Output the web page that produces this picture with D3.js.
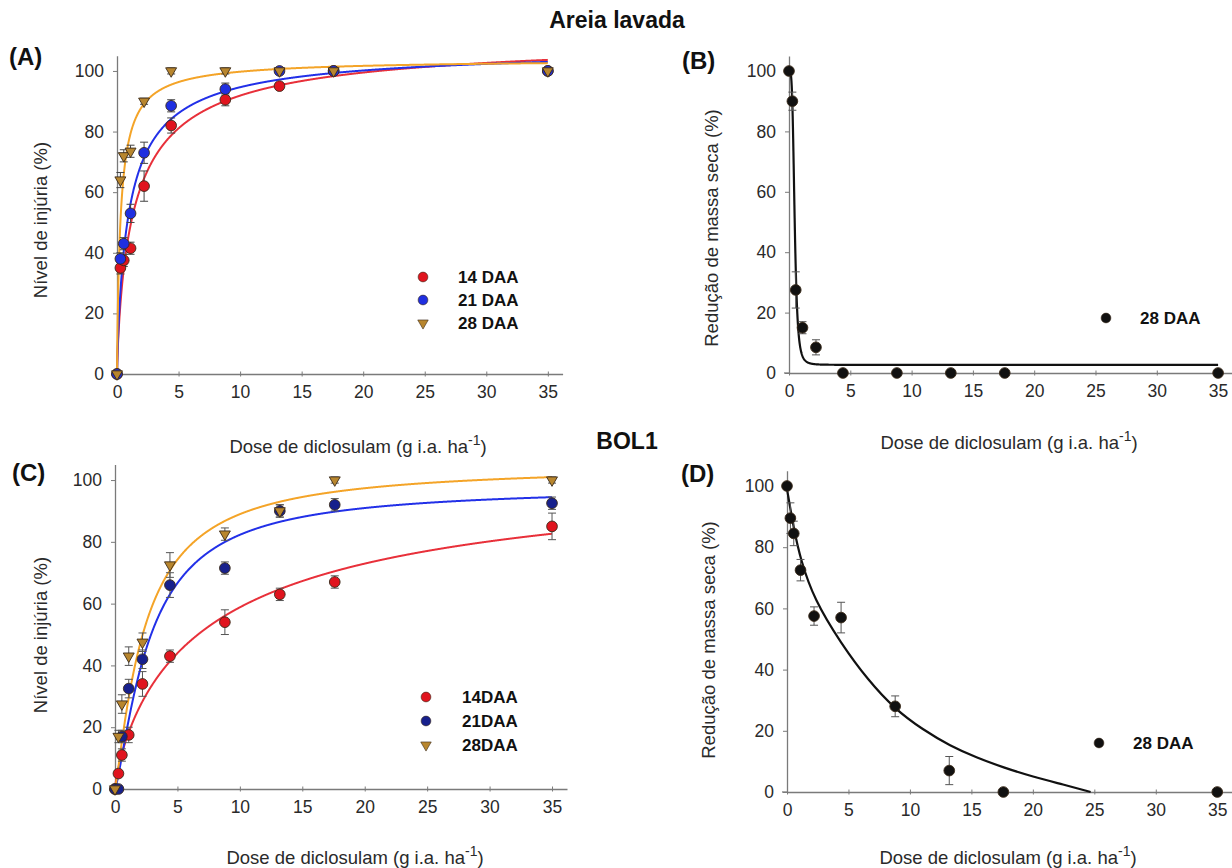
<!DOCTYPE html>
<html><head><meta charset="utf-8">
<script src="https://cdn.jsdelivr.net/npm/d3@7"></script>
<style>
html,body{margin:0;padding:0;background:#fff;}
svg text{font-family:"Liberation Sans",Arial,sans-serif;}
</style></head>
<body>
<svg id="chart" width="1232" height="868"></svg>
<script>
// ---------------- DATA ----------------
const doses = [0, 0.275, 0.55, 1.1, 2.2, 4.4, 8.8, 13.2, 17.6, 35];
const xTicks = [0, 5, 10, 15, 20, 25, 30, 35];
const yTicks = [0, 20, 40, 60, 80, 100];

// Panel A – Areia lavada, injury (%)
const injA14 = [0, 35, 37.5, 41.5, 62, 82, 90.5, 95, 100, 100];
const errA14 = [0, 2, 2, 2, 5, 2.5, 2, 1, 1, 1];
const injA21 = [0, 38, 43, 53, 73, 88.5, 94, 100, 100, 100];
const errA21 = [0, 2, 2, 3, 3.5, 2, 2, 1, 1, 1];
const injA28 = [0, 64, 72, 73.5, 90, 100, 100, 100, 100, 100];
const errA28 = [0, 2.5, 2, 2, 1, 1, 1, 1, 1, 0];
// log-logistic fit parameters [a, b, c] : y = a / (1 + (b/x)^c)
const fitA14 = [112, 1.5, 0.8];
const fitA21 = [108, 1.0, 0.85];
const fitA28 = [104, 0.3, 0.9];

// Panel B – Areia lavada, dry mass reduction (%)
const massB = [100, 90, 27.5, 15, 8.5, 0, 0, 0, 0, 0];
const errB = [0, 3, 6, 2, 2.5, 0, 0, 0, 0, 0];
// fit parameters [d, c, e, b] : y = c + (d-c)/(1+(x/e)^b)
const fitB = [100, 2.7, 0.46, 4];

// Panel C – BOL1, injury (%)
const injC14 = [0, 5, 11, 17.5, 34, 43, 54, 63, 67, 85];
const errC14 = [0, 1, 2, 2.5, 4, 2, 4, 2, 2, 4.3];
const injC21 = [0, 0, 17, 32.5, 42, 66, 71.5, 90, 92, 92.5];
const errC21 = [0, 1, 2, 3, 3, 4, 2, 2, 2, 2];
const injC28 = [0, 17, 27.5, 43, 47.5, 72.5, 82.5, 90, 100, 100];
const errC28 = [0, 2, 3, 3, 3, 4, 2, 2, 1, 1];
const fitC14 = [108, 8, 0.8];
const fitC21 = [98, 2.8, 1.3];
const fitC28 = [105, 2.4, 1.2];

// Panel D – BOL1, dry mass reduction (%)
const massD = [100, 89.5, 84.5, 72.5, 57.5, 57, 28, 7, 0, 0];
const errD = [0, 5, 4, 3.5, 3, 5, 3.4, 4.6, 0, 0];
// fitted curve [dose, value]
const curveDx = [0, 0.55, 1.1, 2.2, 4.4, 6.6, 8.8, 11, 13.3, 15.4, 17.6, 20, 22.5, 24.7];
const curveDy = [99, 86, 76, 63, 48.5, 36.5, 27, 20.5, 15, 11.3, 8, 5, 2.4, 0];

const legendA = ["14 DAA", "21 DAA", "28 DAA"];
const legendC = ["14DAA", "21DAA", "28DAA"];
const legendBD = ["28 DAA"];

// ---------------- DRAW ----------------
const svg = d3.select("#chart");
const AX = "#7a7a7a";
const TICKFS = "17.5px", LABFS = "18.5px";

function makePanel(cfg) {
  const x = d3.scaleLinear().domain([0, 36.2]).range([cfg.x0, cfg.x1]);
  const y = d3.scaleLinear().domain([0, 105]).range([cfg.y0, cfg.y1]);
  const g = svg.append("g");
  const xa = g.append("g").attr("transform", `translate(0,${cfg.y0})`)
    .call(d3.axisBottom(x).tickValues(xTicks).tickSize(3).tickSizeOuter(0).tickPadding(9));
  xa.selectAll(".tick line").attr("y1", -2.5).attr("y2", 2.5);
  const ya = g.append("g").attr("transform", `translate(${cfg.x0},0)`)
    .call(d3.axisLeft(y).tickValues(yTicks).tickSize(4).tickSizeOuter(0).tickPadding(9));
  [xa, ya].forEach(a => {
    a.select(".domain").attr("stroke", AX).attr("stroke-width", 1.3);
    a.selectAll(".tick line").attr("stroke", AX).attr("stroke-width", 1);
    a.selectAll(".tick text").attr("fill", "#2a2a2a").style("font-size", TICKFS);
  });
  g.append("line").attr("x1", cfg.x0 - 5).attr("x2", cfg.x0).attr("y1", cfg.y0).attr("y2", cfg.y0)
    .attr("stroke", AX).attr("stroke-width", 1.3);
  const xl = g.append("text").attr("x", cfg.xlx).attr("y", cfg.xly).attr("text-anchor", "middle")
    .attr("fill", "#2a2a2a").style("font-size", LABFS);
  xl.append("tspan").text("Dose de diclosulam (g i.a. ha");
  xl.append("tspan").attr("dy", -8).style("font-size", "14px").text("-1");
  xl.append("tspan").attr("dy", 8).text(")");
  g.append("text").attr("transform", `translate(${cfg.ylx},${cfg.yly}) rotate(-90)`)
    .attr("text-anchor", "middle").attr("fill", "#2a2a2a").style("font-size", LABFS).text(cfg.ylabel);
  g.append("text").attr("x", cfg.plx).attr("y", cfg.ply).attr("fill", "#111")
    .style("font-size", "24px").style("font-weight", "bold").text(cfg.plabel);
  return {g, x, y};
}

function errorBars(p, ys, es, color) {
  const d = doses.map((v, i) => ({x: v, y: ys[i], e: es[i]})).filter(d => d.e > 0);
  const gg = p.g.append("g").attr("stroke", color).attr("stroke-width", 1);
  gg.selectAll(".v").data(d).join("line").attr("x1", d => p.x(d.x)).attr("x2", d => p.x(d.x))
    .attr("y1", d => p.y(d.y - d.e)).attr("y2", d => p.y(d.y + d.e));
  gg.selectAll(".t").data(d).join("line").attr("x1", d => p.x(d.x) - 4).attr("x2", d => p.x(d.x) + 4)
    .attr("y1", d => p.y(d.y + d.e)).attr("y2", d => p.y(d.y + d.e));
  gg.selectAll(".b").data(d).join("line").attr("x1", d => p.x(d.x) - 4).attr("x2", d => p.x(d.x) + 4)
    .attr("y1", d => p.y(d.y - d.e)).attr("y2", d => p.y(d.y - d.e));
}

function points(p, ys, fill, shape) {
  const d = doses.map((v, i) => ({x: v, y: ys[i]}));
  const sym = shape === "tri" ? d3.symbol().type(d3.symbolTriangle).size(52) : d3.symbol().type(d3.symbolCircle).size(90);
  p.g.append("g").selectAll("path").data(d).join("path")
    .attr("d", sym)
    .attr("transform", d => `translate(${p.x(d.x)},${p.y(d.y)})` + (shape === "tri" ? " rotate(180)" : ""))
    .attr("fill", fill).attr("stroke", "#3a2a1a").attr("stroke-width", 0.9);
}

const xsFine = d3.range(0, 35.001, 0.02);
function llInc(prm) { return x => x <= 0 ? 0 : prm[0] / (1 + Math.pow(prm[1] / x, prm[2])); }
function llDec(prm) { return x => prm[1] + (prm[0] - prm[1]) / (1 + Math.pow(x / prm[2], prm[3])); }

function curve(p, f, color, width) {
  p.g.append("path").datum(xsFine).attr("fill", "none").attr("stroke", color).attr("stroke-width", width || 2)
    .attr("d", d3.line().x(d => p.x(d)).y(d => p.y(f(d))));
}

function legend(p, items, styles, lx, ly, tx, dy) {
  items.forEach((t, i) => {
    const s = styles[i];
    const sym = s.shape === "tri" ? d3.symbol().type(d3.symbolTriangle).size(48) : d3.symbol().type(d3.symbolCircle).size(75);
    p.g.append("path").attr("d", sym)
      .attr("transform", `translate(${lx},${ly + i * dy})` + (s.shape === "tri" ? " rotate(180)" : ""))
      .attr("fill", s.fill).attr("stroke", "#3a2a1a").attr("stroke-width", 0.6);
    p.g.append("text").attr("x", tx).attr("y", ly + i * dy).attr("dy", "0.36em")
      .attr("fill", "#111").style("font-size", "17px").style("font-weight", "bold").text(t);
  });
}

// Titles
svg.append("text").attr("x", 617).attr("y", 28).attr("text-anchor", "middle").attr("fill", "#111")
  .style("font-size", "23px").style("font-weight", "bold").text("Areia lavada");
svg.append("text").attr("x", 627).attr("y", 449).attr("text-anchor", "middle").attr("fill", "#111")
  .style("font-size", "23px").style("font-weight", "bold").text("BOL1");

const RED = "#e0141e", BLUE_A = "#1f2fe0", BLUE_C = "#17208c", ORANGE_P = "#b8862e";
const RED_L = "#e8303a", BLUE_L = "#2230e8", ORANGE_L = "#f4a428";

// Panel A
const pA = makePanel({x0: 117, x1: 562.6, y0: 374, y1: 55.8, xlx: 358, xly: 453, ylx: 47, yly: 220,
  ylabel: "Nível de injúria (%)", plx: 9, ply: 65, plabel: "(A)"});
curve(pA, llInc(fitA14), RED_L);
curve(pA, llInc(fitA21), BLUE_L);
curve(pA, llInc(fitA28), ORANGE_L);
errorBars(pA, injA14, errA14, "#444");
errorBars(pA, injA21, errA21, "#444");
errorBars(pA, injA28, errA28, "#444");
points(pA, injA14, RED, "c");
points(pA, injA21, BLUE_A, "c");
points(pA, injA28, ORANGE_P, "tri");
legend(pA, legendA, [{fill: RED}, {fill: BLUE_A}, {fill: ORANGE_P, shape: "tri"}], 423, 277, 458, 23);

// Panel B
const pB = makePanel({x0: 789, x1: 1232.8, y0: 373, y1: 55.9, xlx: 1009, xly: 449, ylx: 718, yly: 228,
  ylabel: "Redução de massa seca (%)", plx: 682, ply: 69, plabel: "(B)"});
curve(pB, llDec(fitB), "#111", 2.2);
errorBars(pB, massB, errB, "#555");
points(pB, massB, "#111", "c");
legend(pB, legendBD, [{fill: "#111"}], 1106, 318, 1140, 0);

// Panel C
const pC = makePanel({x0: 115, x1: 567, y0: 789, y1: 464.6, xlx: 355, xly: 864, ylx: 47, yly: 635,
  ylabel: "Nível de injúria (%)", plx: 12, ply: 481, plabel: "(C)"});
curve(pC, llInc(fitC14), RED_L);
curve(pC, llInc(fitC21), BLUE_L);
curve(pC, llInc(fitC28), ORANGE_L);
errorBars(pC, injC14, errC14, "#555");
errorBars(pC, injC21, errC21, "#555");
errorBars(pC, injC28, errC28, "#555");
points(pC, injC14, RED, "c");
points(pC, injC21, BLUE_C, "c");
points(pC, injC28, ORANGE_P, "tri");
legend(pC, legendC, [{fill: RED}, {fill: BLUE_C}, {fill: ORANGE_P, shape: "tri"}], 426, 697, 462, 24);

// Panel D
const pD = makePanel({x0: 787, x1: 1232, y0: 792, y1: 470.7, xlx: 1008, xly: 864, ylx: 715, yly: 640,
  ylabel: "Redução de massa seca (%)", plx: 681, ply: 482, plabel: "(D)"});
pD.g.append("path").datum(curveDx.map((v, i) => [v, curveDy[i]])).attr("fill", "none")
  .attr("stroke", "#111").attr("stroke-width", 2.2)
  .attr("d", d3.line().x(d => pD.x(d[0])).y(d => pD.y(d[1])).curve(d3.curveBasis));
errorBars(pD, massD, errD, "#555");
points(pD, massD, "#111", "c");
legend(pD, legendBD, [{fill: "#111"}], 1099, 743, 1133, 0);
</script>
</body></html>
